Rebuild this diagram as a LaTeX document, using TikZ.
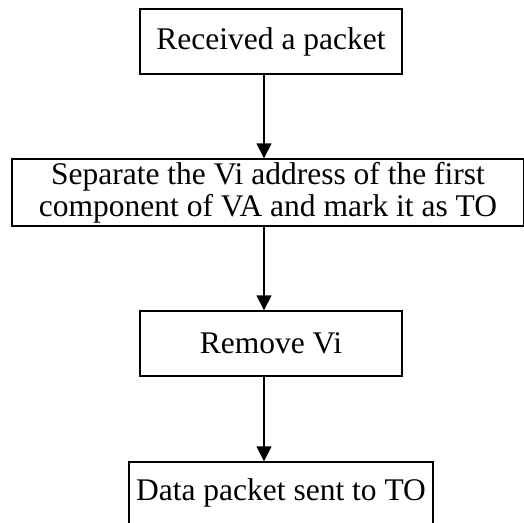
\documentclass[tikz,border=0pt]{standalone}
\usepackage{fontspec}
\setmainfont{Liberation Serif}
\usetikzlibrary{arrows.meta}
\begin{document}
\begin{tikzpicture}[x=1pt,y=-1pt,
        stepbox/.style={draw,line width=1.4pt,inner sep=0pt,align=center,
            font=\fontsize{31.5}{32}\selectfont},
        flow/.style={line width=1.4pt,-{Triangle[width=15pt,length=15pt]}}]
    \useasboundingbox (0,0) rectangle (524,522);

    \node[stepbox,minimum width=262,minimum height=65] (recv) at (271,41.5) {Received a packet};
    \node[stepbox,minimum width=512,minimum height=67] (sep) at (268,192.5)
        {Separate the Vi address of the first\\component of VA and mark it as TO};
    \node[stepbox,minimum width=262,minimum height=65] (rmv) at (271,343.5) {Remove Vi};
    \node[stepbox,minimum width=304,minimum height=62] (send) at (281,493) {Data packet sent to TO};

    % arrows run down a common spine
    \coordinate (spine) at (264,0);
    \draw[flow] (recv.south -| spine) -- (sep.north -| spine);
    \draw[flow] (sep.south -| spine) -- (rmv.north -| spine);
    \draw[flow] (rmv.south -| spine) -- (send.north -| spine);
\end{tikzpicture}
\end{document}
